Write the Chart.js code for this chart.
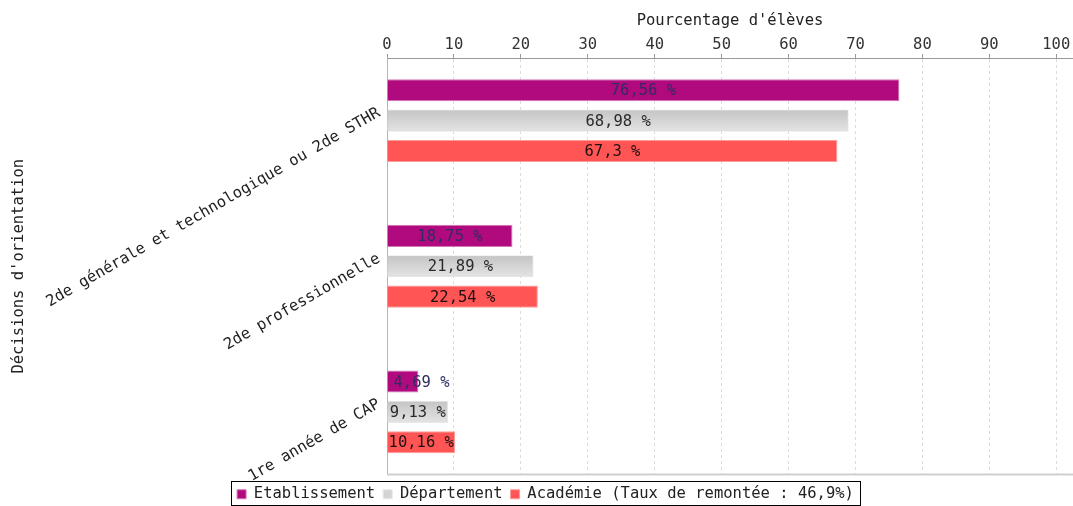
<!DOCTYPE html>
<html>
<head>
<meta charset="utf-8">
<script src="https://cdn.jsdelivr.net/npm/chart.js@4.4.1/dist/chart.umd.min.js"></script>
<style>
  body { margin: 0; background: #fff; }
  #wrap { width: 1073px; height: 506px; }
</style>
</head>
<body>
<div id="wrap"><canvas id="orientChart"></canvas></div>
<script>
// Data
const categories = ['2de générale et technologique ou 2de STHR', '2de professionnelle', '1re année de CAP'];
const seriesNames = ['Etablissement', 'Département', 'Académie (Taux de remontée : 46,9%)'];
const etablissement = [76.56, 18.75, 4.69];
const departement = [68.98, 21.89, 9.13];
const academie = [67.3, 22.54, 10.16];
const xTickStep = 10;

const FONT = '"DejaVu Sans Mono", monospace';
const FSIZE = 15.5;
const labelColors = ['#2e2e60', '#2b2b2b', '#1e1010'];

function points(values) {
    return values.map((v, i) => ({ x: v, y: i }));
}

// Soft vertical gradient on the grey (Département) bars
const greyShade = {
    id: 'greyShade',
    afterDatasetDraw(chart, args) {
        if (args.index !== 1) return;
        const c = chart.ctx;
        c.save();
        args.meta.data.forEach(bar => {
            const top = bar.y - bar.height / 2;
            const g = c.createLinearGradient(0, top, 0, top + bar.height);
            g.addColorStop(0, '#c4c4c4');
            g.addColorStop(1, '#e4e4e4');
            c.fillStyle = g;
            c.fillRect(bar.base, top + 1, bar.x - bar.base - 1, bar.height - 2);
        });
        c.restore();
    }
};

// Value labels drawn inside (or after) each bar
const valueLabels = {
    id: 'valueLabels',
    afterDatasetsDraw(chart) {
        const c = chart.ctx;
        c.save();
        c.font = FSIZE + 'px ' + FONT;
        c.textBaseline = 'middle';
        chart.data.datasets.forEach((ds, di) => {
            chart.getDatasetMeta(di).data.forEach((bar, i) => {
                const txt = String(ds.data[i].x).replace('.', ',') + ' %';
                const w = c.measureText(txt).width;
                const bw = bar.x - bar.base;
                c.fillStyle = labelColors[di];
                if (w > bw) {
                    c.textAlign = 'left';
                    c.fillText(txt, bar.base + 6, bar.y + 1);
                } else {
                    c.textAlign = 'center';
                    c.fillText(txt, (bar.x + bar.base) / 2, bar.y + 1);
                }
            });
        });
        c.restore();
    }
};

// Plot bottom edge and legend frame
const frames = {
    id: 'frames',
    afterLayout(chart) {
        // legend sits a little right of the canvas centre in the original
        const lg = chart.legend;
        lg.left += 9;
        lg.right += 9;
        lg.legendHitBoxes.forEach(h => { h.left += 9; });
    },
    afterDraw(chart) {
        const c = chart.ctx;
        const a = chart.chartArea;
        c.save();
        c.strokeStyle = '#cfcfcf';
        c.lineWidth = 2;
        c.beginPath();
        c.moveTo(a.left, a.bottom);
        c.lineTo(a.right, a.bottom);
        c.stroke();

        const boxes = chart.legend.legendHitBoxes;
        if (boxes && boxes.length) {
            const first = boxes[0], last = boxes[boxes.length - 1];
            const l = Math.round(first.left - 6) + 0.5;
            const r = Math.round(last.left + last.width + 6) + 0.5;
            const t = Math.round(first.top - 6) + 0.5;
            const b = Math.round(first.top + first.height + 3) + 0.5;
            c.strokeStyle = '#000';
            c.lineWidth = 1;
            c.strokeRect(l, t, r - l, b - t);
        }
        c.restore();
    }
};

const ctx = document.getElementById('orientChart').getContext('2d');
const orientChart = new Chart(ctx, {
    type: 'bar',
    data: {
        datasets: [{
            label: seriesNames[0],
            data: points(etablissement),
            backgroundColor: '#b00a7e',
            borderColor: '#d477b8',
            borderWidth: 1
        }, {
            label: seriesNames[1],
            data: points(departement),
            backgroundColor: '#d4d4d4',
            borderColor: '#e8e8e8',
            borderWidth: 1
        }, {
            label: seriesNames[2],
            data: points(academie),
            backgroundColor: '#ff5555',
            borderColor: '#ff9a9a',
            borderWidth: 1
        }]
    },
    options: {
        indexAxis: 'y',
        responsive: true,
        maintainAspectRatio: false,
        animation: false,
        categoryPercentage: 0.625,
        barPercentage: 0.73,
        layout: {
            padding: { left: 0, right: 0, top: 0, bottom: -6 }
        },
        plugins: {
            tooltip: { enabled: false },
            legend: {
                position: 'bottom',
                title: {
                    display: true,
                    text: '',
                    font: { size: 1, lineHeight: 1 },
                    padding: { top: 3, bottom: 0 }
                },
                labels: {
                    boxWidth: 9,
                    boxHeight: 9,
                    padding: 8,
                    color: '#222',
                    font: { family: FONT, size: FSIZE }
                }
            }
        },
        scales: {
            x: {
                type: 'linear',
                position: 'top',
                min: 0,
                max: 102.5,
                ticks: {
                    stepSize: xTickStep,
                    includeBounds: false,
                    padding: 0,
                    color: '#333',
                    font: { family: FONT, size: FSIZE }
                },
                grid: {
                    color: '#dcdcdc',
                    tickLength: 4,
                    tickColor: '#999',
                    tickBorderDash: []
                },
                border: { color: '#999', dash: [3, 3] },
                title: {
                    display: true,
                    text: "Pourcentage d'élèves",
                    color: '#222',
                    font: { family: FONT, size: FSIZE },
                    padding: { top: 12, bottom: 0 }
                },
                afterFit(scale) { scale.height = 58; }
            },
            y: {
                type: 'linear',
                position: 'left',
                reverse: true,
                offset: false,
                min: -0.43,
                max: 2.43,
                afterBuildTicks(scale) {
                    scale.ticks = categories.map((_, i) => ({ value: i - 0.06 }));
                },
                ticks: {
                    minRotation: 30,
                    maxRotation: 30,
                    padding: 8,
                    color: '#222',
                    font: { family: FONT, size: FSIZE },
                    callback: (value) => categories[Math.round(value)]
                },
                grid: { display: false, drawTicks: false },
                border: { display: true, color: '#b5b5b5' },
                title: {
                    display: true,
                    text: "Décisions d'orientation",
                    color: '#222',
                    font: { family: FONT, size: FSIZE },
                    padding: { top: 10, bottom: 0 }
                },
                afterFit(scale) { scale.width = 387; }
            }
        }
    },
    plugins: [greyShade, valueLabels, frames]
});
</script>
</body>
</html>
